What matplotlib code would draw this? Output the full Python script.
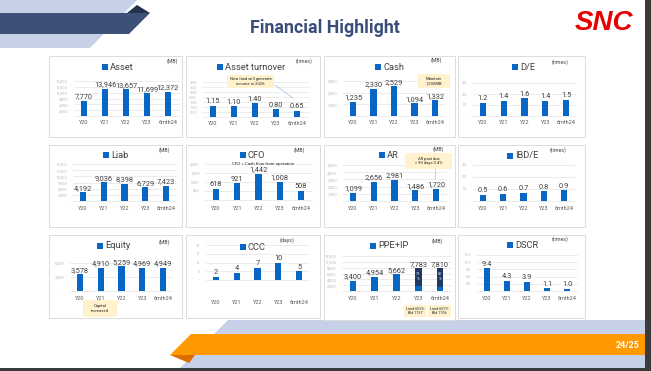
import matplotlib
matplotlib.use("Agg")
import numpy as np
import matplotlib.pyplot as plt
from matplotlib.patches import Rectangle, Polygon

W, H = 651, 371

years = ["Y20", "Y21", "Y22", "Y23", "6mth24"]
asset = [7770, 13946, 13657, 11699, 12372]
asset_turnover = [1.15, 1.10, 1.40, 0.80, 0.65]
cash = [1235, 2330, 2529, 1094, 1332]
de_ratio = [1.2, 1.4, 1.6, 1.4, 1.5]
liab = [4192, 9036, 8398, 6729, 7423]
cfo = [618, 921, 1442, 1008, 508]
ar = [1099, 2656, 2981, 1486, 1720]
ibd_e = [0.5, 0.6, 0.7, 0.8, 0.9]
equity = [3578, 4910, 5259, 4969, 4949]
ccc = [2, 4, 7, 10, 5]
ppe_ip = [3400, 4954, 5662, 7783, 7810]
ppe_lower = [3400, 4954, 5662, 1634, 1406]   # blue part
ppe_upper = [0, 0, 0, 6149, 6404]            # land part (navy)
ppe_pct = ["", "", "", "79\n%", "82\n%"]
dscr = [9.4, 4.3, 3.9, 1.1, 1.0]

BLUE = "#0a66c6"
NAVY = "#203864"
DARK = "#404040"
plt.rcParams["font.family"] = ["Roboto", "DejaVu Sans"]


def comma(v):
    return f"{v:,.0f}"


def dec2(v):
    return f"{v:.2f}"


def dec1(v):
    return f"{v:.1f}"


def whole(v):
    return f"{v:.0f}"


# title, unit, values, ymax, step, fmt, panel box, first/last bar centre,
# top/zero y, x label y, title x/y, unit x/y  (all in slide pixels)
charts = [
    ("Asset", "(MB)", asset, 18000, 3000, comma, (49, 56, 182, 137), 84, 168, 81, 116, 123, 110, 67, 178, 61),
    ("Asset turnover", "(times)", asset_turnover, 3.5, 0.5, dec2, (186, 56, 320, 137), 213, 297, 82, 117, 123, 225, 67, 313, 61),
    ("Cash", "(MB)", cash, 3000, 1000, comma, (324, 56, 455, 137), 353, 435, 81, 116, 123, 383, 67, 442, 60),
    ("D/E", "(times)", de_ratio, 3.0, 1.0, dec1, (458, 56, 585, 137), 483, 566, 83, 116, 123, 520, 67, 568, 62),
    ("Liab", "(MB)", liab, 18000, 3000, comma, (49, 145, 182, 227), 83, 166, 164, 201, 209, 111, 155, 170, 150),
    ("CFO", "(MB)", cfo, 2000, 500, comma, (186, 145, 320, 227), 216, 301, 164, 200, 209, 248, 155, 305, 150),
    ("AR", "(MB)", ar, 5000, 1000, comma, (324, 145, 455, 227), 353, 436, 165, 201, 209, 387, 155, 444, 149),
    ("IBD/E", "(times)", ibd_e, 3.0, 1.0, dec1, (458, 145, 585, 227), 483, 564, 165, 201, 209, 515, 156, 567, 150),
    ("Equity", "(MB)", equity, 6000, 3000, comma, (49, 235, 182, 318), 80, 163, 263, 291, 298, 105, 246, 170, 242),
    ("CCC", "(days)", ccc, 20, 5, whole, (186, 235, 320, 318), 216, 299, 245, 280, 303, 248, 247, 295, 240),
    ("PPE+IP", "(MB)", ppe_ip, 12000, 2000, comma, (324, 235, 455, 320), 353, 440, 256, 291, 299, 378, 246, 443, 241),
    ("DSCR", "(times)", dscr, 15, 3, dec1, (458, 235, 585, 318), 487, 567, 255, 291, 299, 515, 245, 568, 239),
]

notes = [
    (227, 75, 274, 88, "New land will generate\nincome in 2026"),
    (418, 74, 450, 88, "Maintain\n1,200MB"),
    (405, 153, 452, 169, "AR past due\n> 90 days 0.4%"),
    (83, 300, 117, 317, "Capital\nincreased"),
    (404, 305, 426, 317, "Land 6025:\nBld 1757"),
    (428, 305, 451, 317, "Land 6079:\nBld 1706"),
]


def fig_rect(x0, y0, x1, y1):
    return [x0 / W, 1 - y1 / H, (x1 - x0) / W, (y1 - y0) / H]


fig = plt.figure(figsize=(W / 100, H / 100), dpi=100)

bg = fig.add_axes([0, 0, 1, 1])
bg.set_xlim(0, W)
bg.set_ylim(H, 0)
bg.axis("off")
bg.set_zorder(0)

# header decoration
bg.add_patch(Polygon([(0, 0), (137, 0), (90, 48), (0, 48)], closed=True, fc="#c6d1e8", ec="none"))
bg.add_patch(Polygon([(0, 13), (150, 13), (129, 34), (0, 34)], closed=True, fc="#3c5078", ec="none"))
bg.add_patch(Polygon([(127, 13), (137, 5), (150, 13)], closed=True, fc="#24324f", ec="none"))

# footer decoration
bg.add_patch(Polygon([(228, 320), (W, 320), (W, 368), (180, 368)], closed=True, fc="#c6d1e8", ec="none"))
bg.add_patch(Polygon([(191, 334), (W, 334), (W, 355), (170, 355)], closed=True, fc="#ff9900", ec="none"))
bg.add_patch(Polygon([(170, 355), (195, 355), (189, 363)], closed=True, fc="#dc6e00", ec="none"))

for c in charts:
    x0, y0, x1, y1 = c[6]
    bg.add_patch(Rectangle((x0, y0), x1 - x0, y1 - y0, fc="white", ec="#dcdcdc", lw=0.7))

bg.add_patch(Rectangle((645, 0), 6, H, fc="#3b3b3b", ec="none"))
bg.add_patch(Rectangle((0, 368), W, 3, fc="#3b3b3b", ec="none"))

# charts
for (title, unit, vals, ymax, step, fmt, box, c0, c4, top, zero, xly,
     tx, ty, ux, uy) in charts:
    dx = (c4 - c0) / 4
    ax = fig.add_axes(fig_rect(c0 - dx / 2, top, c4 + dx / 2, zero))
    ax.set_zorder(1)
    ax.patch.set_facecolor("none")
    x = np.arange(len(years))
    if title == "PPE+IP":
        ax.bar(x, ppe_lower, width=0.3, color=BLUE, zorder=3)
        ax.bar(x, ppe_upper, bottom=ppe_lower, width=0.3, color=NAVY, zorder=3)
        for i, p in enumerate(ppe_pct):
            if p:
                ax.text(i, ppe_lower[i] + ppe_upper[i] * 0.55, p, ha="center", va="center",
                        color="white", fontsize=2.6, linespacing=1.1, zorder=4)
    else:
        ax.bar(x, vals, width=0.3, color=BLUE, zorder=3)
    for i, v in enumerate(vals):
        ax.annotate(fmt(v), (i, v), xytext=(0, 1.8), textcoords="offset points",
                    ha="center", va="baseline", fontsize=5.3, color=DARK, zorder=4)
    ax.set_xlim(-0.5, len(years) - 0.5)
    ax.set_ylim(0, ymax)
    ticks = np.arange(0, ymax + step / 2, step)
    ax.set_yticks(ticks, ["-" if t == 0 else fmt(t) for t in ticks])
    ax.set_xticks(x, years)
    ax.yaxis.grid(True, color="#e4e4e4", lw=0.5)
    for gl in ax.get_ygridlines():
        gl.set_clip_on(False)
    ax.set_axisbelow(True)
    for s in ax.spines.values():
        s.set_visible(False)
    ax.tick_params(axis="y", length=0, pad=4, labelsize=2.8, labelcolor="#b8b8b8")
    ax.tick_params(axis="x", length=0, pad=max(0.5, (xly - zero - 2.5) * 0.72),
                   labelsize=4, labelcolor="#595959")

fg = fig.add_axes([0, 0, 1, 1])
fg.set_xlim(0, W)
fg.set_ylim(H, 0)
fg.axis("off")
fg.set_zorder(2)

fg.text(325, 28, "Financial Highlight", ha="center", va="center", fontsize=12.8,
        fontweight="bold", color="#3a4e7a")
fg.text(604, 23, "SNC", ha="center", va="center", fontsize=20, fontweight="bold",
        fontstyle="italic", family="Liberation Sans", color="#e60000")
fg.text(628, 345, "24/25", ha="center", va="center", fontsize=6.5, fontweight="bold",
        color="white")

for (title, unit, vals, ymax, step, fmt, box, c0, c4, top, zero, xly,
     tx, ty, ux, uy) in charts:
    fg.add_patch(Rectangle((tx - 8, ty - 2.8), 5.6, 5.6, fc=BLUE, ec="none"))
    fg.text(tx, ty, title, ha="left", va="center", fontsize=6.7, color=DARK)
    fg.text(ux, uy, unit, ha="right", va="center", fontsize=3.8, color=DARK)

fg.text(263, 164, "CFO = Cash flow from operation", ha="center", va="center",
        fontsize=3.2, color="#262626")

# connector lines for the notes
fg.plot([275, 293], [85, 98], color="#9dc3e6", lw=0.5)
fg.plot([435, 435], [169, 179], color="#9dc3e6", lw=0.5)

for x0, y0, x1, y1, txt in notes:
    fg.add_patch(Rectangle((x0, y0), x1 - x0, y1 - y0, fc="#fff2cc", ec="none"))
    fg.text((x0 + x1) / 2, (y0 + y1) / 2, txt, ha="center", va="center",
            fontsize=2.7 if "Land" in txt else 3.0, color="#262626", linespacing=1.3)

fig.savefig("out.png", dpi=100, facecolor="white")
